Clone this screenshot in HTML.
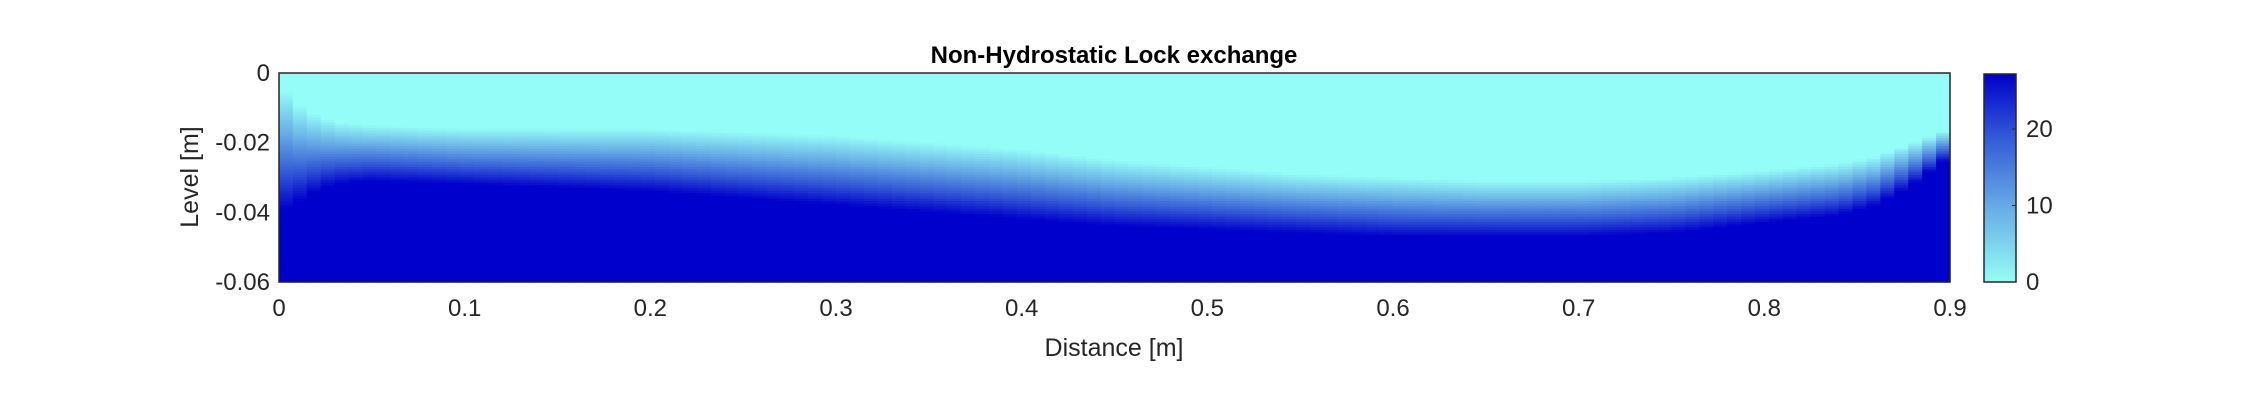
<!DOCTYPE html>
<html><head><meta charset="utf-8"><style>
body{margin:0;background:#fff;width:2264px;height:400px;overflow:hidden}
svg text{font-family:"Liberation Sans",Arial,sans-serif;fill:#262626}
</style></head><body>
<svg id="c" width="2264" height="400">
<defs><linearGradient id="cb" x1="0" y1="1" x2="0" y2="0">
<stop offset="0" stop-color="#94FDF7"/><stop offset="0.35" stop-color="#68AEE6"/><stop offset="0.7" stop-color="#3258D6"/><stop offset="1" stop-color="#0000CC"/></linearGradient></defs>
<g id="heat"></g>
<rect x="279" y="73" width="1671" height="209" fill="none" stroke="#262626" stroke-width="1.5"/>
<g id="ax"></g>
<text x="1114" y="63" text-anchor="middle" font-size="24" font-weight="bold" style="fill:#000">Non-Hydrostatic Lock exchange</text>
<text x="1114" y="356" text-anchor="middle" font-size="25">Distance [m]</text>
<text transform="translate(198,177) rotate(-90)" text-anchor="middle" font-size="25">Level [m]</text>
<rect x="1984" y="74" width="32" height="208" fill="url(#cb)" stroke="#262626" stroke-width="1.5"/>
<g id="cbt"></g>
</svg>
<script>
const xPos=[0,0.005,0.01,0.02,0.03,0.05,0.1,0.15,0.2,0.25,0.3,0.35,0.4,0.45,0.5,0.55,0.6,0.65,0.7,0.75,0.8,0.84,0.86,0.88,0.9];
const upperDepth=[-0.003,-0.006,-0.009,-0.012,-0.014,-0.015,-0.016,-0.016,-0.016,-0.017,-0.018,-0.020,-0.022,-0.025,-0.027,-0.029,-0.030,-0.031,-0.031,-0.030,-0.028,-0.026,-0.024,-0.020,-0.016];
const lowerDepth=[-0.039,-0.039,-0.037,-0.034,-0.032,-0.031,-0.032,-0.033,-0.034,-0.036,-0.038,-0.040,-0.042,-0.044,-0.045,-0.046,-0.047,-0.047,-0.047,-0.046,-0.043,-0.041,-0.038,-0.032,-0.024];
const xTicks=[0,0.1,0.2,0.3,0.4,0.5,0.6,0.7,0.8,0.9];
const yTicks=[0,-0.02,-0.04,-0.06];
const yTickLabels=["0","-0.02","-0.04","-0.06"];
const cTicks=[0,10,20];
const cMax=27.2;
const X=v=>279+v/0.9*1671, Y=v=>73+(-v)/0.06*209, CY=v=>282-v/cMax*208;
const NS="http://www.w3.org/2000/svg";
function lerp(arr,x){for(let i=0;i<xPos.length-1;i++){if(x<=xPos[i+1]){const t=(x-xPos[i])/(xPos[i+1]-xPos[i]);return arr[i]+t*(arr[i+1]-arr[i]);}}return arr[arr.length-1];}
function col(t){const s=[[0,[148,253,247]],[0.35,[104,174,230]],[0.7,[50,88,214]],[1,[0,0,204]]];t=Math.max(0,Math.min(1,t));for(let i=0;i<3;i++){if(t<=s[i+1][0]){const u=(t-s[i][0])/(s[i+1][0]-s[i][0]);return 'rgb('+s[i][1].map((a,k)=>Math.round(a+u*(s[i+1][1][k]-a))).join(',')+')';}}}
const heat=document.getElementById('heat');
const nx=120,ny=80;
for(let i=0;i<nx;i++){const x=(i+0.5)*0.9/nx;const u=lerp(upperDepth,x),l=lerp(lowerDepth,x);
for(let j=0;j<ny;j++){const z=-(j+0.5)*0.06/ny;let t=(u-z)/(u-l);
const r=document.createElementNS(NS,'rect');
r.setAttribute('x',X(i*0.9/nx));r.setAttribute('y',Y(-j*0.06/ny));
r.setAttribute('width',1671/nx+0.6);r.setAttribute('height',209/ny+0.6);r.setAttribute('fill',col(t));


heat.appendChild(r);}}
const ax=document.getElementById('ax');
function txt(g,x,y,s,a,fs){const t=document.createElementNS(NS,'text');t.setAttribute('x',x);t.setAttribute('y',y);t.setAttribute('text-anchor',a);t.setAttribute('font-size',fs);t.textContent=s;g.appendChild(t);return t;}
xTicks.forEach(v=>{const t=txt(ax,X(v),316,String(v),'middle',24);

});
yTicks.forEach((v,i)=>{const t=txt(ax,270,Y(v)+8,yTickLabels[i],'end',24);

});
const cb=document.getElementById('cbt');
cTicks.forEach(v=>{const t=txt(cb,2026,CY(v)+8,String(v),'start',24);


const l=document.createElementNS(NS,'line');l.setAttribute('x1',2012);l.setAttribute('x2',2016);l.setAttribute('y1',CY(v));l.setAttribute('y2',CY(v));l.setAttribute('stroke','#262626');


cb.appendChild(l);});
</script>
</body></html>
